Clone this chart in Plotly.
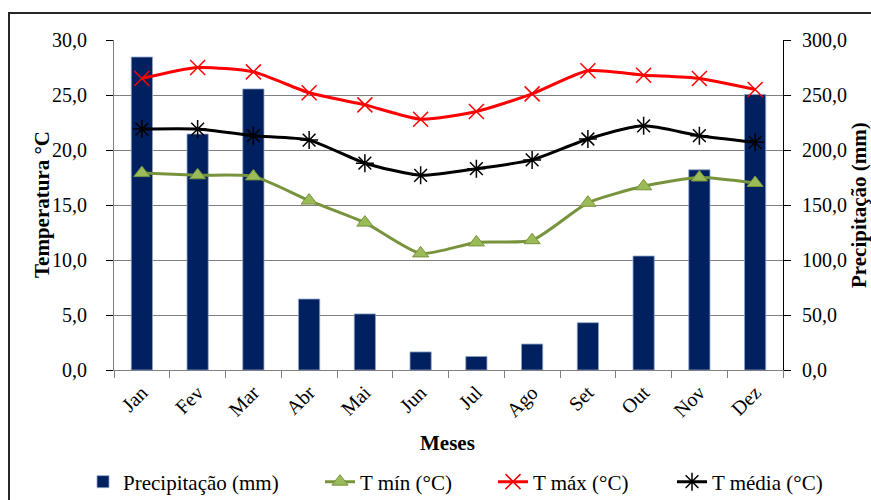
import plotly.graph_objects as go

meses = ["Jan", "Fev", "Mar", "Abr", "Mai", "Jun", "Jul", "Ago", "Set", "Out", "Nov", "Dez"]
precipitacao = [284.5, 214.5, 255.5, 64.5, 51.0, 16.4, 12.3, 23.6, 43.0, 103.6, 182.0, 250.5]
t_min = [17.9, 17.7, 17.6, 15.4, 13.4, 10.6, 11.6, 11.8, 15.2, 16.7, 17.5, 17.0]
t_max = [26.5, 27.5, 27.1, 25.2, 24.1, 22.8, 23.5, 25.1, 27.2, 26.8, 26.5, 25.5]
t_media = [21.9, 21.9, 21.3, 20.9, 18.8, 17.7, 18.3, 19.1, 21.0, 22.2, 21.3, 20.7]

FONT = "Liberation Serif, Times New Roman, DejaVu Serif, serif"
AXIS_COLOR = "#7f7f7f"

# plot area in pixels: x 114..783, y 40..370
PX_L, PX_R, PX_T, PX_B = 114, 783, 40, 370


def px_x(px):
    return (px - PX_L) / (PX_R - PX_L)


def px_y(py):
    return (PX_B - py) / (PX_B - PX_T)


fig = go.Figure()

# Rainfall bars on the primary axis (drawn on the right side)
fig.add_trace(go.Bar(
    x=meses, y=precipitacao, name="Precipitação (mm)", yaxis="y", legend="legend",
    marker=dict(color="#002060", line=dict(color="#8ea2c8", width=0.8)),
    width=0.38,
))

# Temperature lines on the overlaying axis (drawn on the left side)
fig.add_trace(go.Scatter(
    x=meses, y=t_min, name="T mín (°C)", yaxis="y2", mode="lines+markers", legend="legend2",
    line=dict(color="#77933C", width=3, shape="spline", smoothing=0.6),
    marker=dict(symbol="triangle-up", size=14, color="#9BBB59",
                line=dict(color="#77933C", width=1)),
))
fig.add_trace(go.Scatter(
    x=meses, y=t_max, name="T máx (°C)", yaxis="y2", mode="lines+markers", legend="legend3",
    line=dict(color="#FF0000", width=3, shape="spline", smoothing=0.6),
    marker=dict(symbol="x-thin-open", size=15, color="#FF0000",
                line=dict(color="#FF0000", width=1.5)),
))
fig.add_trace(go.Scatter(
    x=meses, y=t_media, name="T média (°C)", yaxis="y2", mode="lines+markers", legend="legend4",
    line=dict(color="#000000", width=3, shape="spline", smoothing=0.6),
    marker=dict(symbol="asterisk-open", size=15, color="#000000",
                line=dict(color="#000000", width=1.5)),
))

tick_font = dict(family=FONT, size=20, color="#000000")
title_font = dict(family=FONT, size=21, color="#000000")
legend_font = dict(family=FONT, size=21, color="#000000")


def legend_at(px_left):
    return dict(orientation="h", x=px_x(px_left), xanchor="left",
                yref="container", y=1 - 482 / 500, yanchor="middle",
                font=legend_font, itemwidth=30, bgcolor="rgba(0,0,0,0)")


fig.update_layout(
    width=871, height=500,
    margin=dict(l=PX_L, r=871 - PX_R, t=PX_T, b=500 - PX_B, autoexpand=False),
    paper_bgcolor="white", plot_bgcolor="white",
    separators=",.",
    showlegend=True,
    legend=legend_at(83),
    legend2=legend_at(320),
    legend3=legend_at(493),
    legend4=legend_at(672),
    xaxis=dict(
        type="category", tickson="boundaries", ticks="outside", ticklen=7,
        tickcolor=AXIS_COLOR, showline=True, linecolor=AXIS_COLOR, linewidth=1,
        showgrid=False, tickangle=-45, tickfont=tick_font, automargin=False,
        ticklabelstandoff=2, range=[-0.5, 11.5],
    ),
    yaxis=dict(
        side="right", range=[0, 300], tickvals=[0, 50, 100, 150, 200, 250, 300],
        tickformat=".1f", ticks="outside", ticklen=7, tickcolor="#000000",
        showline=True, linecolor="#000000", linewidth=1, automargin=False,
        showgrid=True, gridcolor=AXIS_COLOR, gridwidth=1, zeroline=False,
        tickfont=tick_font, ticklabelstandoff=7,
    ),
    yaxis2=dict(
        overlaying="y", side="left", range=[0, 30], tickvals=[0, 5, 10, 15, 20, 25, 30],
        tickformat=".1f", ticks="outside", ticklen=7, tickcolor="#000000",
        showline=True, linecolor=AXIS_COLOR, linewidth=1, automargin=False,
        showgrid=False, zeroline=False, tickfont=tick_font, ticklabelstandoff=15,
    ),
    annotations=[
        dict(text="<b>Meses</b>", xref="paper", yref="paper",
             x=px_x(447), y=px_y(443), xanchor="center", yanchor="middle",
             showarrow=False, font=title_font),
        dict(text="<b>Temperatura °C</b>", textangle=-90, xref="paper", yref="paper",
             x=px_x(42), y=0.5, xanchor="center", yanchor="middle", showarrow=False,
             font=title_font),
        dict(text="<b>Precipitação (mm)</b>", textangle=-90, xref="paper", yref="paper",
             x=px_x(859), y=0.5, xanchor="center", yanchor="middle", showarrow=False,
             font=title_font),
    ],
    shapes=[
        dict(type="rect", xref="paper", yref="paper",
             x0=px_x(9), x1=px_x(900), y0=px_y(520), y1=px_y(13),
             line=dict(color="#262626", width=2), fillcolor="rgba(0,0,0,0)", layer="below"),
    ],
)

fig.write_html("out.html")
